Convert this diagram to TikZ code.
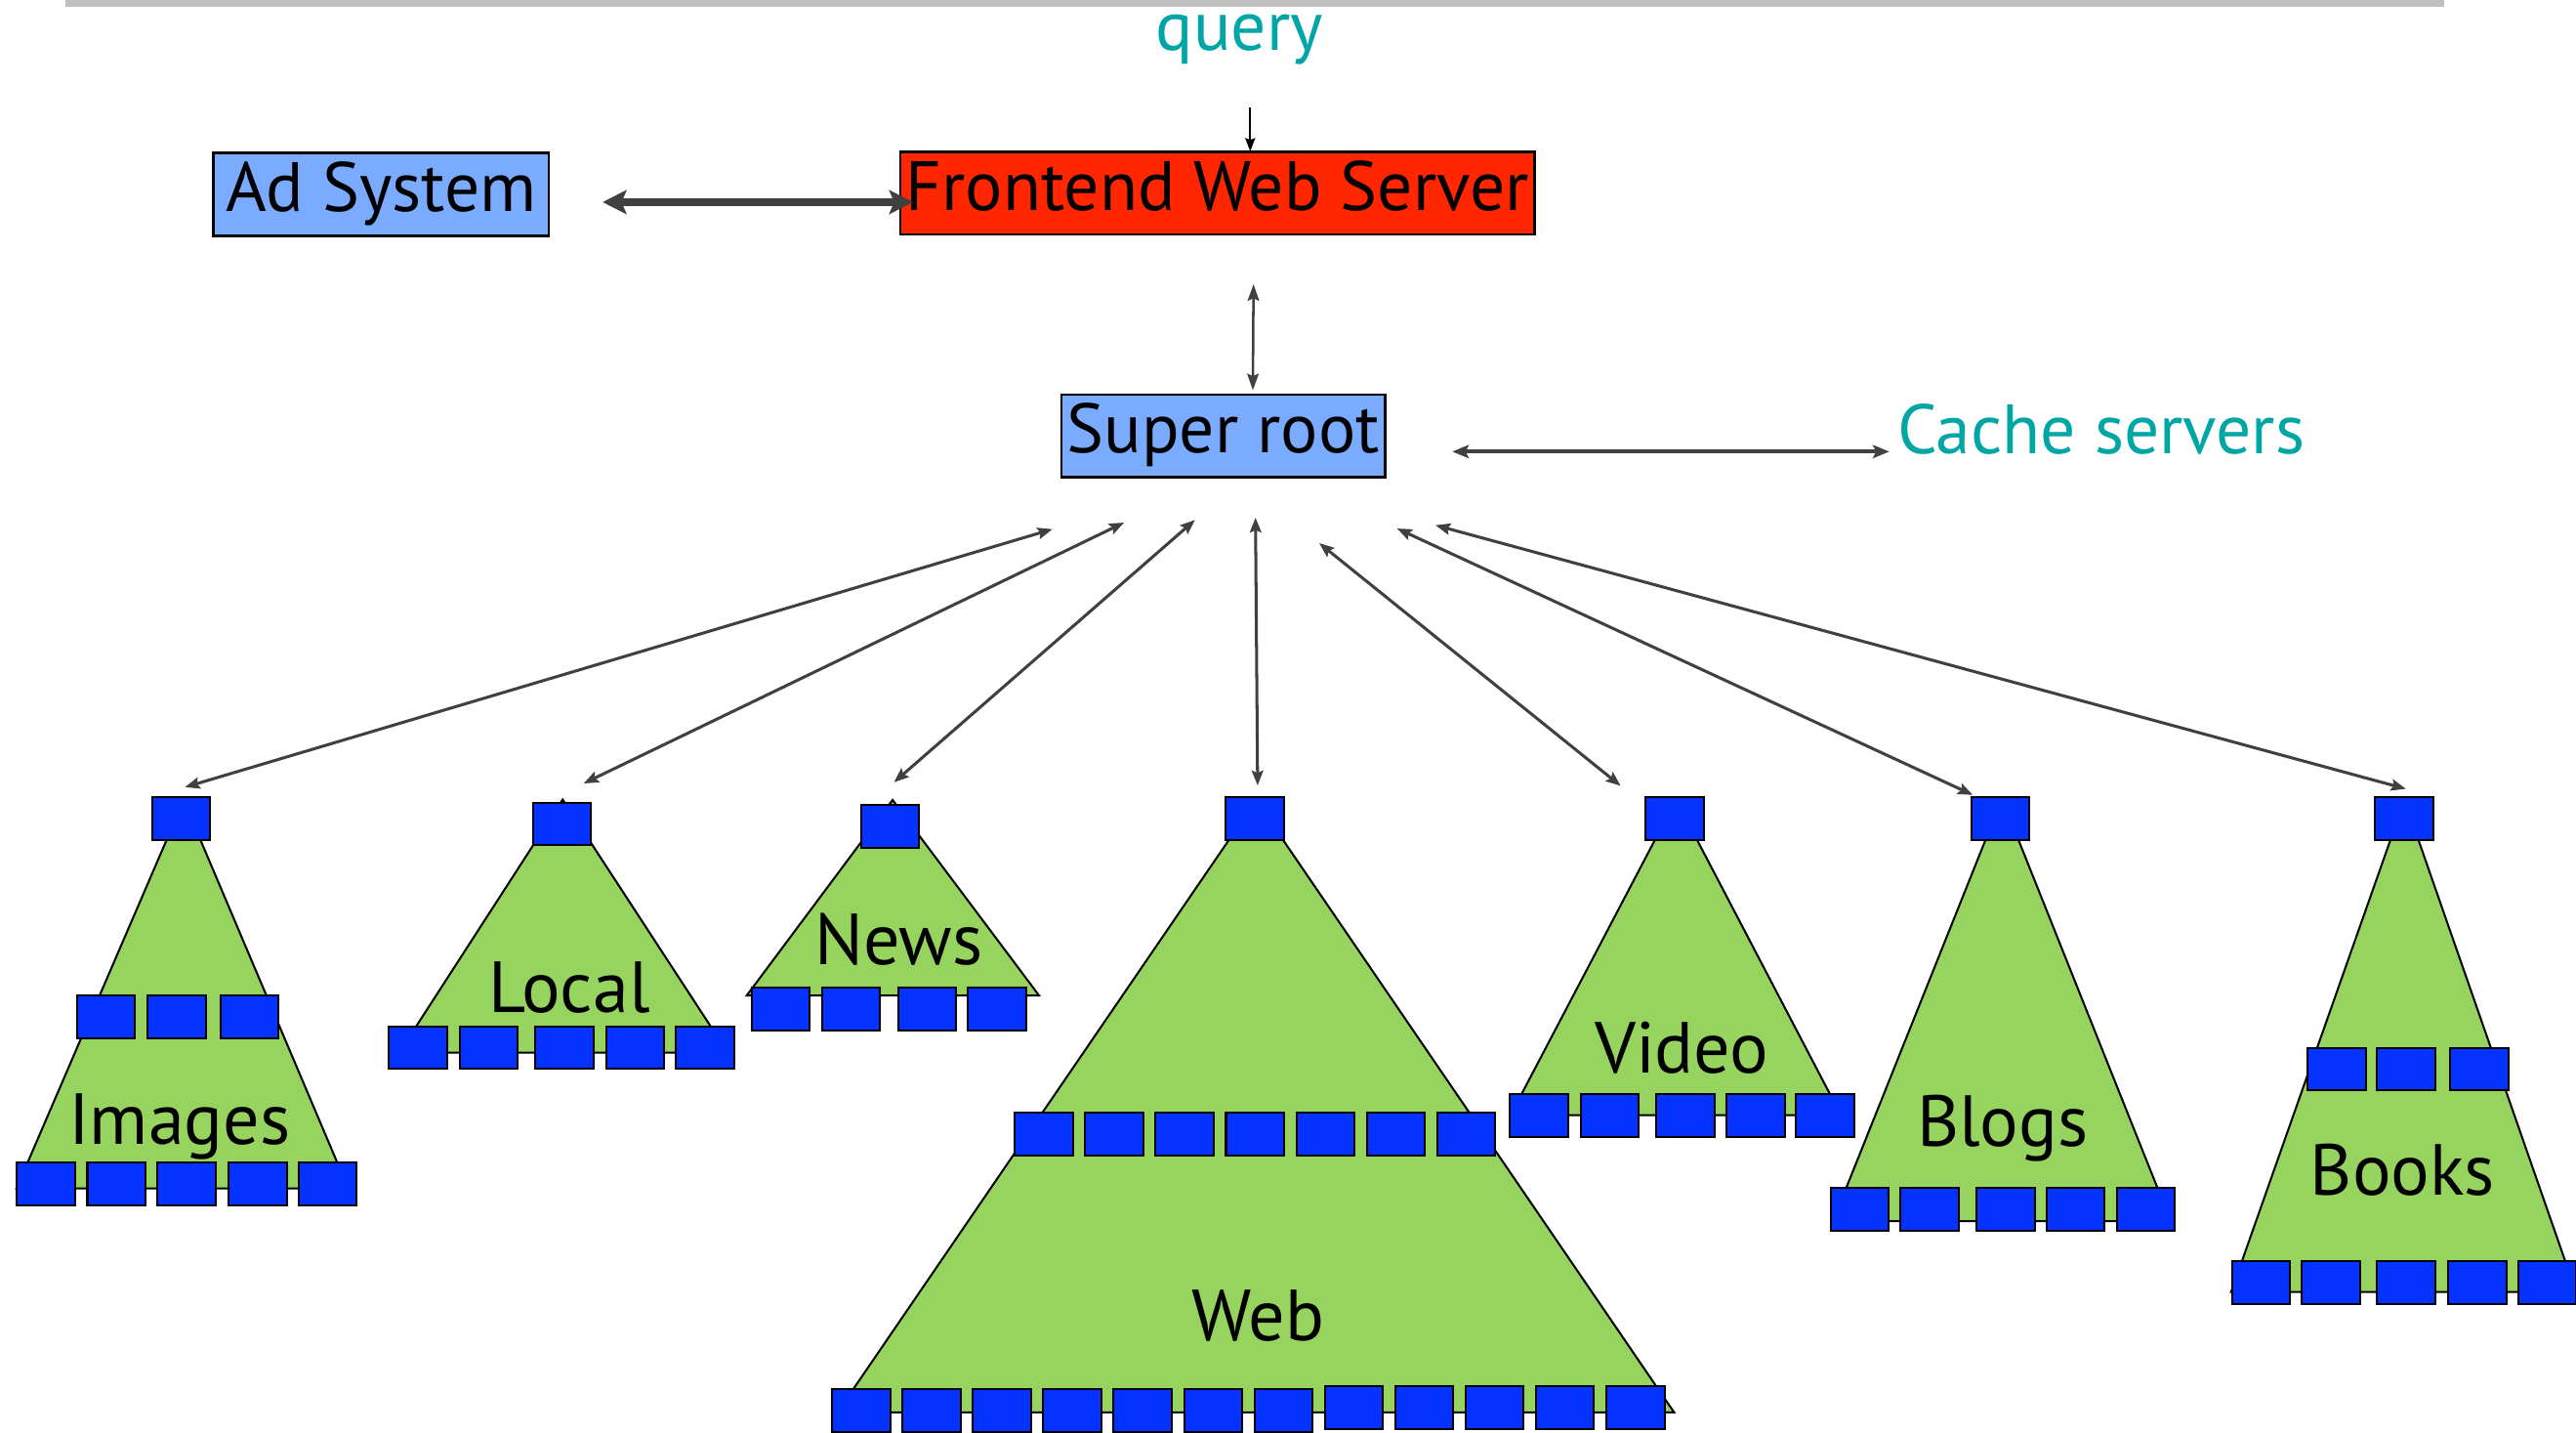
\documentclass[tikz,border=0pt]{standalone}
\usepackage{fontspec}
\setmainfont{PT Sans}
\usetikzlibrary{arrows.meta}
\definecolor{leafblue}{HTML}{0433FF}
\definecolor{treegreen}{HTML}{96D35F}
\definecolor{serverblue}{HTML}{7AABFF}
\definecolor{frontred}{HTML}{FF2600}
\definecolor{cachecyan}{HTML}{00A6A6}
\definecolor{linkgray}{HTML}{404040}
\definecolor{bargray}{HTML}{C0C0C0}
\tikzset{
  big/.style={font=\fontsize{44}{44}\selectfont},
  top/.style={font=\fontsize{42.5}{42.5}\selectfont},
  server/.style={draw=black, line width=1.5pt, inner sep=0pt, top, text height=31pt, text depth=10pt},
  leaf/.style={draw=black, fill=leafblue, line width=1.2pt, minimum width=35.4pt, minimum height=26pt, inner sep=0pt},
  tree/.style={draw=black, fill=treegreen, line width=1.2pt, line join=miter},
  lbl/.style={big, inner sep=0pt, anchor=base},
  toplbl/.style={top, inner sep=0pt, anchor=base, text=cachecyan},
  link/.style={draw=linkgray, line width=1.8pt, {Stealth[length=9pt,width=7pt,inset=1.5pt]}-{Stealth[length=9pt,width=7pt,inset=1.5pt]}},
}
\begin{document}
\begin{tikzpicture}[x=1pt,y=-1pt]
\useasboundingbox (0,0) rectangle (1568,871.4);
\fill[bargray] (40,0) rectangle (1488,4.2);

% top tier
\node[toplbl] (query) at (754.5,30.7) {query};
\node[server, fill=frontred, minimum width=386pt, minimum height=50.4pt] (front) at (741,117.5) {Frontend Web Server};
\node[server, fill=serverblue, minimum width=204pt, minimum height=50.5pt] (ads) at (232,118.4) {Ad System};
\node[server, fill=serverblue, minimum width=197pt, minimum height=50.2pt] (root) at (744.5,265.2) {Super root};
\node[toplbl] (cache) at (1279,275.8) {Cache servers};

\coordinate (q0) at (761,65.4);
\coordinate (q1) at (761,92.1);
\draw[black, line width=1.3pt, -{Stealth[length=8pt,width=6pt,inset=1pt]}] (q0) -- (q1);

\coordinate (ad0) at (366.8,123);
\coordinate (ad1) at (555.8,123);
\draw[linkgray, line width=4.4pt, {Stealth[length=14.5pt,width=14.5pt,inset=3pt]}-{Stealth[length=14.5pt,width=14.5pt,inset=3pt]}] (ad0) -- (ad1);

\coordinate (fr0) at (763,173);
\coordinate (fr1) at (762.6,237.4);
\draw[linkgray, line width=1.5pt, {Stealth[length=10pt,width=7pt,inset=1.5pt]}-{Stealth[length=10pt,width=7pt,inset=1.5pt]}] (fr0) -- (fr1);

\coordinate (ca0) at (884,274.8);
\coordinate (ca1) at (1150,274.8);
\draw[linkgray, line width=2.5pt, {Stealth[length=10pt,width=8pt,inset=2pt]}-{Stealth[length=10pt,width=8pt,inset=2pt]}] (ca0) -- (ca1);

% fan-out from the super root
\coordinate (r1) at (640.6,322);   \coordinate (t1) at (112.6,479);
\coordinate (r2) at (684.2,318);   \coordinate (t2) at (355.3,476.7);
\coordinate (r3) at (727.4,316.4); \coordinate (t3) at (544.2,476);
\coordinate (r4) at (764.2,315);   \coordinate (t4) at (765.5,477.9);
\coordinate (r5) at (803,330.5);   \coordinate (t5) at (986.5,478.2);
\coordinate (r6) at (850.4,321.6); \coordinate (t6) at (1200.8,483.7);
\coordinate (r7) at (873.8,319.6); \coordinate (t7) at (1464.4,480);
\foreach \i in {1,...,7} \draw[link] (r\i) -- (t\i);

% tree bodies
\draw[tree] (111.8,487) -- (212,723.2) -- (10,723.2) -- cycle;
\draw[tree] (342.5,486.5) -- (443,640.5) -- (243,640.5) -- cycle;
\draw[tree] (543.3,486.8) -- (632.5,605.8) -- (454.5,605.8) -- cycle;
\draw[tree] (764.5,487) -- (1019,859.4) -- (509.7,859.4) -- cycle;
\draw[tree] (1020.2,486.6) -- (1120.6,678.6) -- (919.4,678.6) -- cycle;
\draw[tree] (1218.6,486) -- (1321.3,743) -- (1115.7,743) -- cycle;
\draw[tree] (1463.6,486.8) -- (1568,786.2) -- (1358,786.2) -- cycle;

% Images
\node[leaf] (imgT) at (110.3,498.1) {};
\foreach \x [count=\i] in {64.6,107.6,151.8} \node[leaf] (imgM\i) at (\x,618.8) {};
\foreach \x [count=\i] in {28,70.9,113.6,156.8,199.3} \node[leaf] (imgB\i) at (\x,720.2) {};
\node[lbl] (imgL) at (109.3,696.4) {Images};

% Local
\node[leaf] (locT) at (342.1,501.3) {};
\foreach \x [count=\i] in {254.5,297.4,343.4,386.6,429.2} \node[leaf] (locB\i) at (\x,637.5) {};
\node[lbl] (locL) at (346.5,615.8) {Local};

% News
\node[leaf] (newT) at (541.8,502.9) {};
\foreach \x [count=\i] in {475.1,518.1,564.4,607} \node[leaf] (newB\i) at (\x,614) {};
\node[lbl] (newL) at (547,586.9) {News};

% Web
\node[leaf] (webT) at (763.8,498.2) {};
\foreach \i in {0,...,6} \node[leaf] (webM\i) at ({635.4+42.85*\i},689.9) {};
\foreach \i in {0,...,6} \node[leaf] (webB\i) at ({524.2+42.84*\i},858.1) {};
\foreach \i in {7,...,11} \node[leaf] (webB\i) at ({524.2+42.84*\i},856.3) {};
\node[lbl] (webL) at (765.9,816) {Web};

% Video
\node[leaf] (vidT) at (1019.5,498.3) {};
\foreach \x [count=\i] in {936.7,979.8,1026,1068.7,1110.9} \node[leaf] (vidB\i) at (\x,678.7) {};
\node[lbl] (vidL) at (1023.6,653.1) {Video};

% Blogs
\node[leaf] (blgT) at (1217.5,498.3) {};
\foreach \x [count=\i] in {1131.9,1174.6,1220.7,1263.4,1306.1} \node[leaf] (blgB\i) at (\x,736) {};
\node[lbl] (blgL) at (1219,697.5) {Blogs};

% Books
\node[leaf] (bokT) at (1463.3,498.3) {};
\foreach \x [count=\i] in {1422.2,1464.6,1509} \node[leaf] (bokM\i) at (\x,650.5) {};
\foreach \x [count=\i] in {1376.2,1418.9,1464.6,1507.8,1550.5} \node[leaf] (bokB\i) at (\x,780.4) {};
\node[lbl] (bokL) at (1462.5,727) {Books};
\end{tikzpicture}
\end{document}
